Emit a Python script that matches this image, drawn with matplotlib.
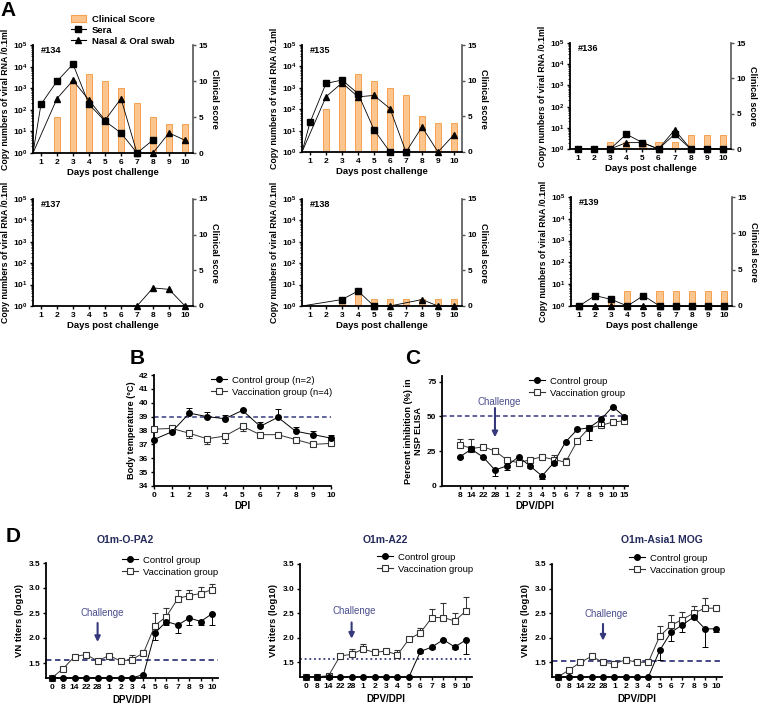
import numpy as np
import matplotlib
matplotlib.use('Agg')
import matplotlib.pyplot as plt
from matplotlib.lines import Line2D
from matplotlib.patches import Patch

plt.rcParams['font.family'] = ['Liberation Sans', 'DejaVu Sans']
plt.rcParams['mathtext.fontset'] = 'custom'
plt.rcParams['mathtext.rm'] = 'Liberation Sans:bold'
plt.rcParams['mathtext.default'] = 'rm'

nan = np.nan

# ---- panel A: viral RNA per animal ----
days = np.arange(1, 11)

score_134 = [0, 5, 10, 11, 10, 9, 7, 5, 4, 4]
sera_134 = [180, 2100, 13000, 180, 30, 8.5, 1, 4, nan, nan]
swab_134 = [nan, 330, 2300, 280, 33, 330, 1, 1, 8.5, 3.9]

score_135 = [0, 6, 10, 11, 10, 9, 8, 5, 4, 4]
sera_135 = [24, 1600, 2300, 540, 11, 1, 1, nan, nan, nan]
swab_135 = [nan, 380, 1700, 380, 440, 107, 1, 15, 1, 6.5]

score_136 = [0, 0, 1, 1, 1, 1, 1, 2, 2, 2]
sera_136 = [1, 1, 1, 5, 2, 1, 5, 1, 1, 1]
swab_136 = [nan, nan, 1, 2, 2, 1, 8, 1, 1, 1]

score_137 = [0, 0, 0, 0, 0, 0, 0, 0, 0, 0]
sera_137 = [nan] * 10
swab_137 = [nan, nan, nan, nan, nan, nan, 1, 7, 6, 1]

score_138 = [0, 0, 1, 2, 1, 1, 1, 1, 1, 1]
sera_138 = [nan, nan, 2, 5, 1, nan, nan, nan, nan, nan]
swab_138 = [nan, nan, nan, nan, 1, 1, nan, 2, 1, 1]

score_139 = [0, 0, 1, 2, 0, 2, 2, 2, 2, 2]
sera_139 = [1, 3, 2, 1, 3, 1, 1, 1, 1, 1]
swab_139 = [1, 1, 1, 1, 1, 1, 1, 1, 1, 1]

# ---- panel B: body temperature ----
dpi_days = np.arange(0, 11)
temp_ctrl = [37.35, 37.9, 39.25, 39.0, 38.85, 39.45, 38.3, 38.95, 37.95, 37.7, 37.45]
temp_ctrl_err = [0, 0.1, 0.35, 0.3, 0.3, 0.1, 0.3, 0.6, 0.3, 0.3, 0.2]
temp_vacc = [38.1, 38.15, 37.8, 37.4, 37.6, 38.3, 37.7, 37.7, 37.35, 37.0, 37.07]
temp_vacc_err = [0.1, 0.1, 0.35, 0.4, 0.5, 0.3, 0.1, 0.1, 0.1, 0.1, 0.1]

# ---- panel C: NSP ELISA ----
nsp_labels = ['8', '14', '22', '28', '1', '2', '3', '4', '5', '6', '7', '8', '9', '10', '15']
nsp_ctrl = [20.9, 26.4, 20.7, 11.5, 14.4, 20.9, 14.2, 7.2, 16.8, 31.7, 40.6, 41.8, 47.8, 57.0, 49.8]
nsp_ctrl_err = [1, 1, 0.5, 4, 3, 1, 1, 2.5, 1.5, 1, 1, 9, 5, 1, 1]
nsp_vacc = [29.8, 26.9, 28.1, 25.2, 18.8, 16.6, 19.0, 20.9, 19.0, 17.1, 32.5, 41.8, 43.5, 45.9, 46.9]
nsp_vacc_err = [4, 7, 1, 1, 1, 1, 1, 1, 3, 3, 1, 1, 1, 1, 1]

# ---- panel D: VN titers ----
vn_labels = ['0', '8', '14', '22', '28', '1', '2', '3', '4', '5', '6', '7', '8', '9', '10']
vn_titles = ['O1m-O-PA2', 'O1m-A22', 'O1m-Asia1 MOG']

pa2_ctrl = [1.2, 1.2, 1.2, 1.2, 1.2, 1.2, 1.2, 1.2, 1.27, 2.1, 2.33, 2.26, 2.4, 2.33, 2.49]
pa2_ctrl_err = [0, 0, 0, 0, 0, 0, 0, 0, 0, 0.14, 0.07, 0.15, 0.14, 0.07, 0.22]
pa2_vacc = [1.2, 1.39, 1.63, 1.67, 1.54, 1.65, 1.54, 1.57, 1.7, 2.25, 2.43, 2.79, 2.85, 2.89, 2.97]
pa2_vacc_err = [0, 0.04, 0.03, 0.04, 0.03, 0.03, 0.03, 0.1, 0.03, 0.25, 0.18, 0.18, 0.11, 0.13, 0.12]

a22_ctrl = [1.2, 1.2, 1.2, 1.2, 1.2, 1.2, 1.2, 1.2, 1.2, 1.2, 1.72, 1.81, 1.96, 1.81, 1.96]
a22_ctrl_err = [0, 0, 0, 0, 0, 0, 0, 0, 0, 0, 0.03, 0.03, 0.03, 0.03, 0.3]
a22_vacc = [1.2, 1.2, 1.23, 1.63, 1.66, 1.77, 1.7, 1.73, 1.65, 1.97, 2.1, 2.41, 2.41, 2.34, 2.55]
a22_vacc_err = [0, 0, 0.02, 0.03, 0.1, 0.1, 0.08, 0.03, 0.1, 0.05, 0.1, 0.18, 0.3, 0.17, 0.27]

asia_ctrl = [1.2, 1.2, 1.2, 1.2, 1.2, 1.2, 1.2, 1.2, 1.2, 1.74, 2.11, 2.26, 2.42, 2.18, 2.18]
asia_ctrl_err = [0, 0, 0, 0, 0, 0, 0, 0, 0, 0.2, 0.17, 0.15, 0.03, 0.37, 0.06]
asia_vacc = [1.2, 1.34, 1.5, 1.62, 1.5, 1.47, 1.55, 1.5, 1.5, 2.03, 2.25, 2.37, 2.5, 2.6, 2.6]
asia_vacc_err = [0, 0.02, 0.02, 0.03, 0.02, 0.02, 0.05, 0.02, 0.02, 0.2, 0.22, 0.16, 0.15, 0.2, 0.02]

vn_cutoff = [1.57, 1.57, 1.53]

BAR_FILL = '#fcc58d'
BAR_EDGE = '#f4a150'
NAVY = '#35397c'
W, H = 760, 704

fig = plt.figure(figsize=(W / 100, H / 100), dpi=100)


def px_axes(l, t, r, b):
    return fig.add_axes([l / W, 1 - b / H, (r - l) / W, (b - t) / H])


def style(ax, labelsize=6):
    for s in ['top', 'right']:
        ax.spines[s].set_visible(False)
    for s in ['left', 'bottom']:
        ax.spines[s].set_linewidth(1.3)
    ax.tick_params(direction='out', length=2.5, width=1, labelsize=labelsize, pad=1.5)
    for lab in ax.get_xticklabels() + ax.get_yticklabels():
        lab.set_fontweight('bold')


def panel_a(box, name, score, sera, swab, sera_start, swab_start):
    ax = px_axes(*box)
    ax2 = ax.twinx()
    ax.set_zorder(ax2.get_zorder() + 1)
    ax.patch.set_visible(False)

    ax2.bar(days, score, width=0.38, color=BAR_FILL, edgecolor=BAR_EDGE, linewidth=0.7)
    ax2.set_ylim(0, 15)
    ax2.set_yticks([0, 5, 10, 15])
    for s in ['top', 'left', 'bottom']:
        ax2.spines[s].set_visible(False)
    ax2.spines['right'].set_color('#555555')
    ax2.spines['right'].set_linewidth(1.2)
    ax2.tick_params(direction='out', length=2.5, width=1, labelsize=6, pad=1.5, colors='black')
    ax2.tick_params(axis='y', color='#555555')
    for lab in ax2.get_yticklabels():
        lab.set_fontweight('bold')
    ax2.set_ylabel('Clinical score', rotation=270, fontsize=6.6, fontweight='bold', labelpad=8)

    for vals, mk, ms, start in [(swab, '^', 3.8, swab_start), (sera, 's', 4.0, sera_start)]:
        v = np.array(vals, float)
        ok = ~np.isnan(v)
        if not ok.any():
            continue
        x = list(days[ok])
        y = list(v[ok])
        if start:
            ax.plot([0.5] + x, [1] + y, color='black', lw=0.6, clip_on=False)
        else:
            ax.plot(x, y, color='black', lw=0.6, clip_on=False)
        ax.plot(x, y, ls='none', marker=mk, ms=ms, color='black', clip_on=False, zorder=4)

    ax.set_yscale('log')
    ax.set_ylim(1, 1e5)
    ax.set_xlim(0.5, 10.5)
    ax.set_xticks(days)
    style(ax, 6)
    ax.tick_params(axis='y', which='minor', length=1.5, width=0.6)
    ax.set_xlabel('Days post challenge', fontsize=6.8, fontweight='bold', labelpad=2)
    ax.set_ylabel('Copy numbers of viral RNA /0.1ml', fontsize=6.3, fontweight='bold', labelpad=2)
    ax.text(0.05, 0.95, name, transform=ax.transAxes, fontsize=6.6, fontweight='bold', va='center')
    return ax


panel_a((33, 45, 193, 153), '#134', score_134, sera_134, swab_134, True, True)
panel_a((302, 45, 462, 152), '#135', score_135, sera_135, swab_135, True, True)
panel_a((570, 43, 731, 149), '#136', score_136, sera_136, swab_136, False, False)
panel_a((33, 199, 193, 306), '#137', score_137, sera_137, swab_137, False, False)
panel_a((302, 199, 462, 306), '#138', score_138, sera_138, swab_138, True, False)
panel_a((571, 197, 732, 306), '#139', score_139, sera_139, swab_139, False, False)

handles_a = [Patch(facecolor=BAR_FILL, edgecolor=BAR_EDGE, linewidth=0.8),
             Line2D([], [], color='black', lw=0.8, marker='s', ms=4.0),
             Line2D([], [], color='black', lw=0.8, marker='^', ms=3.8)]
fig.legend(handles_a, ['Clinical Score', 'Sera', 'Nasal & Oral swab'],
           loc='upper left', bbox_to_anchor=(66 / W, 1 - 10 / H), frameon=False,
           prop={'size': 6.8, 'weight': 'bold'}, handlelength=1.6, handletextpad=0.6,
           labelspacing=0.2, borderpad=0)


def two_series(ax, x, ctrl, ctrl_err, vacc, vacc_err, ctrl_up):
    z = np.zeros(len(x))
    ce = [z, ctrl_err] if ctrl_up else [ctrl_err, z]
    ve = [vacc_err, z] if ctrl_up else [z, vacc_err]
    ax.errorbar(x, ctrl, yerr=ce, fmt='-o', color='black', ms=4.0, lw=0.7,
                elinewidth=0.7, capsize=2, capthick=0.7, clip_on=False, zorder=4)
    ax.errorbar(x, vacc, yerr=ve, fmt='-s', color='#333333', mfc='white', mec='#333333', ms=4.6,
                mew=0.8, lw=0.7, elinewidth=0.7, capsize=2, capthick=0.7, clip_on=False, zorder=3)


def group_legend(ax, labels, anchor):
    hs = [Line2D([], [], color='black', lw=0.8, marker='o', ms=4.0),
          Line2D([], [], color='#333333', lw=0.8, marker='s', ms=4.6, mfc='white', mew=0.8)]
    fig.legend(hs, labels, loc='upper left', bbox_to_anchor=(anchor[0] / W, 1 - anchor[1] / H),
               frameon=False, prop={'size': 6.8}, handlelength=1.7, handletextpad=0.6,
               labelspacing=0.3, borderpad=0)


def challenge(ax, x, y0, y1, tx, ty):
    ax.annotate('', xy=(x, y1), xytext=(x, y0),
                arrowprops=dict(arrowstyle='-|>', color=NAVY, lw=1.5, mutation_scale=8,
                                shrinkA=0, shrinkB=0))
    ax.text(tx, ty, 'Challenge', ha='center', va='center', fontsize=7, color='#4a4e8c')


# ---- B ----
axb = px_axes(154, 375, 331, 486)
two_series(axb, dpi_days, temp_ctrl, temp_ctrl_err, temp_vacc, temp_vacc_err, True)
axb.axhline(39, ls=(0, (3, 2)), color=NAVY, lw=1.1, zorder=1)
axb.set_xlim(0, 10)
axb.set_ylim(34, 42)
axb.set_xticks(dpi_days)
axb.set_yticks(np.arange(34, 43))
style(axb, 6)
axb.set_xlabel('DPI', fontsize=7, fontweight='bold', labelpad=2)
axb.set_ylabel('Body temperature (°C)', fontsize=6.6, fontweight='bold', labelpad=2)
group_legend(axb, ['Control group (n=2)', 'Vaccination group (n=4)'], (206, 371))

# ---- C ----
axc = px_axes(442, 376, 628, 486)
xc = np.arange(len(nsp_labels))
two_series(axc, xc, nsp_ctrl, nsp_ctrl_err, nsp_vacc, nsp_vacc_err, False)
axc.axhline(50.5, ls=(0, (3, 2)), color=NAVY, lw=1.1, zorder=1)
axc.set_xlim(-1.5, 14.3)
axc.set_ylim(0, 79)
axc.set_xticks(xc)
axc.set_xticklabels(nsp_labels)
axc.set_yticks([0, 25, 50, 75])
style(axc, 6)
axc.set_xlabel('DPV/DPI', fontsize=7, fontweight='bold', labelpad=2)
axc.set_ylabel('Percent inhibition (%) in\nNSP ELISA', fontsize=6.6, fontweight='bold', labelpad=3)
challenge(axc, 3, 56, 35, 3.4, 60)
group_legend(axc, ['Control group', 'Vaccination group'], (524, 372))

# ---- D ----
d_boxes = [(46, 563, 218, 678), (300, 564, 472, 677), (552, 564, 722, 677)]
d_data = [(pa2_ctrl, pa2_ctrl_err, pa2_vacc, pa2_vacc_err),
          (a22_ctrl, a22_ctrl_err, a22_vacc, a22_vacc_err),
          (asia_ctrl, asia_ctrl_err, asia_vacc, asia_vacc_err)]
d_styles = [(0, (3, 2)), (0, (1, 1.6)), (0, (3, 2))]
d_arrow = [(2.3, 1.92, 4.4, 2.5), (2.31, 1.98, 4.2, 2.55), (2.28, 1.94, 4.3, 2.48)]
d_title_x = [125, 385, 662]
d_legend = [(117, 551), (372, 548), (624, 549)]
xd = np.arange(len(vn_labels))

for i in range(3):
    ax = px_axes(*d_boxes[i])
    c, ce, v, ve = d_data[i]
    two_series(ax, xd, c, ce, v, ve, False)
    ax.axhline(vn_cutoff[i], ls=d_styles[i], color=NAVY, lw=1.3, zorder=1)
    ax.set_xlim(-0.5, 14.5)
    ax.set_ylim(1.2, 3.5)
    ax.set_xticks(xd)
    ax.set_xticklabels(vn_labels)
    ax.set_yticks([1.5, 2.0, 2.5, 3.0, 3.5])
    ax.set_yticklabels(['%.1f' % t for t in [1.5, 2.0, 2.5, 3.0, 3.5]])
    style(ax, 6)
    ax.set_xlabel('DPV/DPI', fontsize=7, fontweight='bold', labelpad=3)
    ax.set_ylabel('VN titers (log10)', fontsize=6.8, fontweight='bold', labelpad=3)
    y0, y1, tx, ty = d_arrow[i]
    challenge(ax, 4, y0, y1, tx, ty)
    fig.text(d_title_x[i] / W, 1 - 540 / H, vn_titles[i], ha='center', va='center',
             fontsize=7.5, fontweight='bold', color='#252b5c')
    group_legend(ax, ['Control group', 'Vaccination group'], d_legend[i])

# panel letters
for letter, (x, y) in zip('ABCD', [(8, 10), (137, 358), (413, 358), (13, 537)]):
    fig.text(x / W, 1 - y / H, letter, ha='center', va='center', fontsize=15, fontweight='bold')

fig.savefig('out.png', dpi=100)
